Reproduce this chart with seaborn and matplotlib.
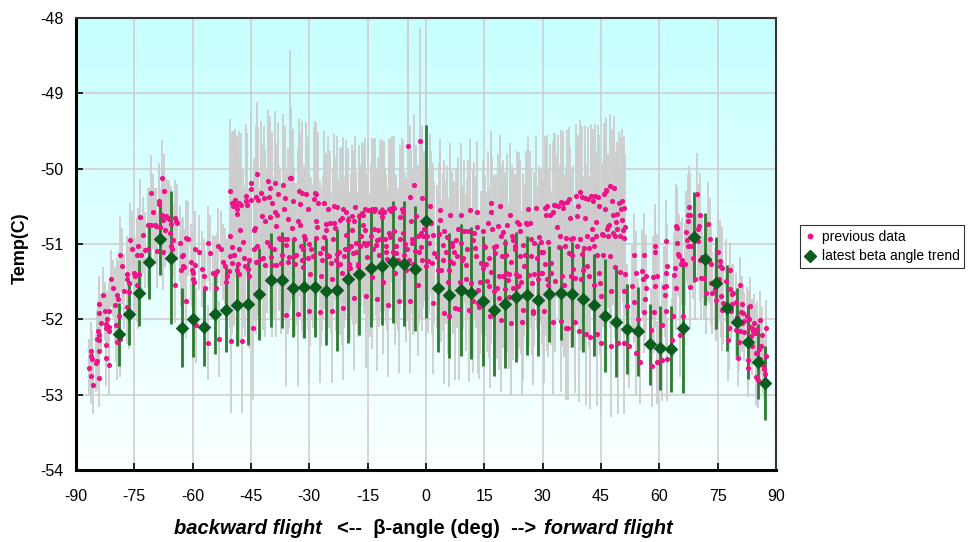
import matplotlib
matplotlib.use("Agg")
import matplotlib.pyplot as plt
import numpy as np
import pandas as pd
import seaborn as sns
from matplotlib.colors import LinearSegmentedColormap
from matplotlib.lines import Line2D

# ---------------- data ----------------
# previous data: beta angle (deg) and temperature (C)
prev_beta = [
    -86.6, -86.2, -86.1, -86.0, -86.2, -85.7, -84.8, -84.7, -84.3, -84.5,
    -84.0, -84.0, -84.2, -84.0, -84.2, -84.1, -83.5, -83.0, -82.6, -82.3,
    -82.4, -82.1, -81.6, -81.6, -81.6, -82.4, -82.3, -81.4, -81.1, -80.6,
    -80.0, -79.7, -79.4, -79.2, -79.0, -79.5, -78.8, -78.8, -78.2, -77.6,
    -76.8, -76.8, -77.0, -76.3, -76.3, -76.1, -75.6, -76.4, -75.1, -74.7,
    -74.4, -74.0, -74.2, -74.0, -73.9, -73.5, -73.2, -72.8, -72.3, -71.6,
    -71.5, -71.1, -70.8, -70.6, -70.1, -69.7, -69.4, -69.1, -68.7, -68.7,
    -68.5, -68.0, -67.9, -67.5, -67.3, -67.2, -66.8, -66.3, -67.7, -66.0,
    -65.8, -65.6, -65.5, -65.3, -65.1, -64.6, -64.6, -64.2, -63.9, -63.2,
    -62.9, -62.7, -62.4, -62.4, -62.2, -61.8, -61.7, -61.3, -60.3, -60.1,
    -59.8, -59.8, -59.6, -59.3, -59.3, -59.1,
    -58.4, -57.6, -57.0, -56.9, -56.0, -56.0, -55.5, -54.8, -54.3, -54.0,
    -53.8, -53.4, -53.1, -52.7, -52.1, -51.7, -51.4, -51.2, -50.7, -50.5,
    -50.5, -50.3, -50.2, -50.0, -49.8, -49.8, -49.7, -49.5, -49.3, -49.1,
    -49.0, -48.8, -48.6, -48.5, -48.5, -48.3, -48.1, -48.0, -48.0, -47.8,
    -47.6, -47.4, -47.1, -46.9, -46.6, -46.2, -46.2, -45.9, -45.7, -45.5,
    -45.4, -45.0, -44.9, -44.9, -44.5, -44.3, -44.2, -44.0, -43.8, -43.6,
    -43.5, -43.5, -43.1, -42.8, -42.3, -42.1, -42.0, -41.6, -41.5, -41.3,
    -41.0, -40.6, -40.4, -40.2, -40.2, -40.0, -39.9, -39.7, -39.5, -39.2,
    -38.8, -38.7, -38.5, -38.5, -38.3, -38.0, -37.8, -37.5, -37.3, -37.1,
    -36.8, -36.6, -36.4, -36.3, -36.1, -35.9, -35.8, -35.6, -35.4, -35.2,
    -34.9, -34.7, -34.4, -34.2, -34.0, -33.9, -33.7, -33.4, -33.0, -32.8,
    -32.7, -32.5, -32.3, -32.1, -32.0, -31.8, -31.6, -31.5, -31.3, -31.1,
    -30.8, -30.4, -30.3, -30.1, -30.0, -29.7, -29.5, -29.1, -28.7, -28.5,
    -28.4,
    -28.2, -28.2, -27.9, -27.7, -27.3, -27.0, -27.2, -26.8, -26.6, -26.3,
    -26.1, -25.8, -25.6, -25.4, -25.1, -24.9, -24.8, -24.4, -24.2, -24.1,
    -23.9, -23.7, -23.6, -23.4, -23.2, -23.0, -22.9, -22.5, -22.4, -22.2,
    -22.0, -21.7, -21.5, -21.3, -21.3, -21.0, -20.8, -20.6, -20.5, -20.1,
    -20.0, -19.8, -19.6, -19.3, -19.1, -18.9, -18.7, -18.6, -18.4, -18.2,
    -18.1, -17.9, -17.5, -17.4, -17.2, -17.0, -16.7, -16.5, -16.3, -16.2,
    -16.0, -15.8, -15.7, -15.5, -15.3, -15.1, -15.0, -14.8, -14.5, -14.1,
    -13.9, -13.8, -13.6, -13.4, -13.3, -13.1, -12.9, -12.7, -12.6, -12.4,
    -12.2, -11.9, -11.7, -11.4, -11.2, -11.0, -10.9, -10.7, -10.5, -10.3,
    -10.2, -10.0, -9.8, -9.6, -9.5, -9.3, -9.1, -8.8, -8.6, -8.3,
    -8.1, -7.9, -7.8, -7.6, -7.3, -6.9, -6.7, -6.6, -6.2, -6.0,
    -5.9, -5.7, -5.5, -5.2, -4.8, -4.5, -4.3, -4.1, -4.0, -3.8,
    -3.6, -3.5, -3.3, -3.1, -2.8, -2.5, -2.1, -2.0, -1.8, -1.6,
    -1.4, -1.3, -1.1, -0.9, -0.7, -0.6, -0.4, 0.0, 0.3, 0.5,
    0.7, 1.0, 1.3, 1.5, 1.7, 1.9, 2.0,
    2.9, 3.1, 3.4, 3.6, 3.7, 3.9, 4.3, 4.4, 4.6, 4.6,
    5.1, 5.3, 5.6, 5.8, 6.0, 6.1, 6.3, 6.7, 6.8, 7.0,
    7.2, 7.5, 7.7, 8.0, 8.2, 8.4, 8.7, 8.9, 9.1, 9.2,
    9.6, 9.9, 10.3, 10.4, 10.6, 10.8, 11.1, 11.3, 11.6, 12.0,
    12.1, 12.3, 12.5, 12.8, 13.0, 13.2, 13.4, 13.5, 13.7, 13.9,
    14.2, 14.6, 14.7, 14.9, 15.1, 15.4, 15.6, 15.9, 16.1, 16.3,
    16.4, 16.6, 16.6, 16.8, 17.1, 17.5, 17.6, 17.8, 18.0, 18.2,
    18.5, 18.7, 18.8, 19.0, 19.2, 19.4, 19.5, 19.7, 19.9, 20.2,
    20.4, 20.6, 20.7, 20.9, 21.1, 21.3, 21.4, 21.6, 21.8, 21.9,
    22.1, 22.3, 22.4, 22.8, 22.9, 23.1, 23.3, 23.7, 23.8, 24.0,
    24.2, 24.3, 24.5, 24.7, 24.9, 25.0, 25.2, 25.4, 25.7, 26.1,
    26.2, 26.4, 26.7, 26.9, 27.1, 27.3, 27.4, 27.6, 27.8, 27.9,
    28.3, 28.5, 28.8, 29.0, 29.1, 29.5, 29.7, 29.8, 30.0, 30.4,
    30.5, 30.7, 30.9, 31.0, 31.2, 31.4, 31.5, 31.9, 32.1, 32.2,
    32.6, 32.7, 32.9, 33.1, 33.3,
    33.8, 34.0, 34.3, 34.5, 34.6, 34.8, 35.0, 35.2, 35.3, 35.5,
    35.7, 35.9, 36.0, 36.2, 36.5, 36.7, 36.9, 37.1, 37.2, 37.4,
    37.6, 37.7, 37.9, 38.3, 38.4, 38.6, 38.8, 38.9, 39.1, 39.3,
    39.5, 39.6, 39.8, 40.0, 40.1, 40.5, 40.7, 40.8, 41.0, 41.2,
    41.3, 41.5, 41.7, 41.9, 42.0, 42.2, 42.4, 42.6, 42.7, 42.9,
    43.1, 43.2, 43.4, 43.6, 43.7, 43.9, 44.1, 44.3, 44.4, 44.6,
    44.8, 45.0, 45.1, 45.3, 45.5, 45.6, 45.8, 46.0, 46.2, 46.3,
    46.5, 46.7, 46.8, 47.0, 47.2, 47.4, 47.5, 47.7, 47.9, 48.0,
    48.2, 48.4, 48.6, 48.7, 48.9, 49.1, 49.2, 49.4, 49.6, 49.8,
    49.9, 50.1, 50.3, 50.4, 50.6, 50.8, 50.9, 51.1, 50.8, 50.9,
    51.3, 51.8, 52.3, 53.0, 53.4, 53.5, 53.9, 54.0, 54.6, 55.1,
    55.6, 55.8, 56.1, 56.1, 56.3, 56.5, 56.6, 57.8, 58.0, 58.3,
    58.7, 58.9, 59.0, 59.0, 59.4, 59.5,
    60.6, 60.7, 61.3, 61.4, 61.6, 61.8, 61.8, 61.8, 61.9, 62.1,
    63.3, 63.5, 63.8, 64.0, 64.2, 64.4, 64.5, 64.5, 64.7, 65.0,
    65.2, 65.5, 65.9, 66.1, 66.6, 66.9, 67.1, 67.3, 67.3, 67.4,
    67.6, 67.8, 67.9, 68.1, 68.6, 69.3, 69.7, 70.0, 70.2, 70.4,
    70.0, 70.4, 70.7, 71.0, 71.6, 72.1, 72.2, 72.6, 72.9, 73.1,
    73.3, 73.4, 73.6, 74.3, 74.6, 75.0, 75.3, 75.5, 75.7, 76.0,
    75.9, 76.2, 76.4, 77.2, 77.6, 77.9, 78.1, 78.3, 78.4, 78.6,
    78.8, 79.0, 79.6, 79.8, 80.1, 80.5, 80.3, 80.7, 80.8, 81.0,
    81.2, 81.3, 81.5, 81.7, 81.9, 82.5, 82.7, 82.9, 83.1, 83.2,
    83.4, 83.6, 83.8, 83.9, 84.1, 84.4, 84.6, 84.8, 84.9, 85.1,
    85.3, 85.6, 85.8, 86.0, 86.2, 86.5, 86.7, 87.0, 87.2, 87.4,
    87.5,
]
prev_temp = [
    -52.64, -52.42, -52.48, -52.53, -52.75, -52.87, -52.58, -52.55, -52.15, -52.26,
    -52.28, -52.21, -52.42, -52.78, -51.91, -51.80, -52.05, -51.68, -51.89, -52.06,
    -52.12, -52.00, -51.89, -52.10, -52.15, -52.51, -52.34, -52.61, -51.46, -51.59,
    -51.81, -52.07, -51.68, -51.73, -51.96, -52.30, -52.26, -51.14, -51.29, -51.63,
    -51.40, -51.46, -51.83, -51.52, -51.64, -50.95, -51.06, -51.90, -51.38, -51.42,
    -51.54, -51.02, -51.14, -51.63, -51.40, -50.64, -51.14, -50.88, -51.08, -51.07,
    -50.75, -50.75, -50.32, -50.75, -50.57, -50.75, -50.76, -51.09, -50.43, -50.47,
    -50.77, -50.12, -50.62, -50.68, -50.30, -50.81, -50.63, -50.65, -51.11, -50.67,
    -50.85, -50.73, -51.03, -51.07, -50.95, -50.65, -51.55, -50.70, -50.72, -50.99,
    -51.34, -51.16, -51.14, -51.29, -51.30, -50.92, -51.75, -50.93, -51.24, -51.34,
    -51.39, -51.47, -51.51, -51.06, -51.28, -52.08,
    -51.11, -51.33, -51.43, -51.59, -50.99, -52.31, -51.12, -51.38, -51.40, -51.58,
    -51.36, -51.02, -52.26, -51.06, -51.24, -51.29, -51.51, -51.43, -51.36, -50.90,
    -51.16, -50.29, -52.29, -51.25, -51.04, -50.46, -50.49, -50.45, -51.14, -50.48,
    -50.42, -50.50, -51.34, -50.53, -50.60, -51.26, -50.45, -51.40, -51.07, -50.81,
    -50.48, -52.29, -50.97, -51.18, -51.29, -50.43, -50.36, -50.48, -51.33, -51.43,
    -51.21, -50.19, -50.27, -50.41, -52.12, -50.82, -51.07, -50.79, -51.24, -50.37,
    -50.07, -51.02, -50.41, -51.20, -50.32, -50.63, -51.19, -50.39, -50.70, -51.28,
    -50.97, -50.17, -50.38, -50.64, -51.02, -50.25, -51.17, -51.28, -50.46, -51.06,
    -50.58, -50.19, -51.28, -50.76, -50.61, -50.33, -50.92, -50.94, -51.25, -51.14,
    -50.22, -50.94, -50.54, -50.39, -51.01, -51.94, -50.94, -50.67, -51.24, -51.17,
    -50.12, -50.13, -50.79, -50.43, -51.16, -50.93, -51.27, -51.14, -51.93, -50.69,
    -50.29, -50.47, -50.75, -51.02, -50.32, -51.21, -51.07, -51.30, -50.90, -50.94,
    -50.33, -51.19, -50.53, -51.89, -51.00, -51.40, -51.06, -51.16, -50.40, -50.32,
    -50.92,
    -50.34, -50.70, -50.77, -50.46, -51.12, -51.42, -51.90, -51.21, -51.05, -50.91,
    -50.45, -50.74, -50.81, -51.14, -50.53, -51.16, -50.72, -51.25, -51.47, -51.89,
    -50.94, -50.49, -50.72, -50.79, -51.21, -50.51, -51.13, -51.28, -51.10, -51.26,
    -50.68, -50.66, -51.39, -50.53, -51.85, -51.16, -51.06, -50.57, -50.88, -51.07,
    -50.68, -51.26, -51.32, -51.02, -50.81, -50.63, -51.12, -50.70, -51.72, -50.51,
    -51.11, -50.99, -51.26, -51.29, -50.63, -51.03, -50.89, -50.59, -50.61, -50.75,
    -50.98, -50.54, -50.82, -51.69, -51.01, -51.17, -50.98, -50.55, -51.29, -50.89,
    -51.44, -50.54, -51.07, -50.80, -50.56, -50.54, -51.01, -51.73, -50.95, -50.81,
    -51.15, -50.57, -50.94, -50.55, -50.64, -51.51, -50.58, -50.58, -50.94, -51.10,
    -51.03, -51.20, -51.81, -50.85, -50.54, -50.91, -50.56, -50.52, -51.10, -50.83,
    -50.52, -51.39, -51.12, -51.03, -51.21, -51.76, -50.64, -50.93, -50.54, -50.85,
    -50.57, -51.15, -51.00, -51.35, -51.07, -49.70, -51.21, -51.76, -50.37, -50.70,
    -50.94, -50.99, -51.26, -50.22, -51.09, -50.63, -51.54, -50.90, -51.11, -49.63,
    -50.85, -51.04, -50.39, -51.21, -50.90, -50.80, -50.72, -51.29, -50.90, -51.23,
    -50.98, -50.49, -50.72, -51.25, -51.78, -50.88, -51.12,
    -51.17, -51.34, -50.87, -50.55, -50.68, -51.35, -51.21, -51.01, -50.83, -51.91,
    -51.11, -50.91, -51.51, -51.95, -51.34, -50.61, -51.22, -51.02, -50.98, -51.25,
    -51.11, -51.85, -50.95, -51.16, -50.80, -51.86, -51.51, -50.61, -50.99, -51.21,
    -51.18, -50.83, -51.47, -51.28, -51.07, -50.83, -51.88, -50.55, -51.52, -51.76,
    -50.95, -50.86, -51.05, -51.16, -50.78, -50.58, -51.61, -51.78, -51.84, -51.51,
    -51.25, -51.32, -50.83, -51.03, -51.04, -51.27, -51.49, -50.72, -51.56, -51.19,
    -51.96, -50.45, -50.57, -51.37, -50.80, -51.04, -51.62, -51.12, -51.02, -51.58,
    -50.76, -51.42, -51.72, -50.50, -52.01, -50.90, -51.16, -51.43, -50.84, -50.99,
    -51.60, -51.39, -51.15, -50.75, -51.48, -51.71, -51.40, -50.61, -52.05, -51.24,
    -50.90, -50.95, -51.59, -51.02, -51.07, -51.40, -50.71, -51.56, -50.73, -51.43,
    -51.16, -50.83, -51.51, -52.04, -51.87, -51.01, -51.29, -51.14, -50.72, -50.74,
    -50.53, -51.41, -50.72, -51.16, -50.94, -51.52, -51.92, -51.89, -51.40, -50.99,
    -50.52, -51.18, -51.46, -50.91, -51.38, -51.11, -50.97, -51.38, -51.10, -51.89,
    -51.26, -50.52, -50.62, -51.47, -50.50, -50.97, -51.55, -50.62, -51.39, -51.25,
    -50.58, -52.04, -50.48, -51.49, -50.48,
    -50.77, -50.50, -51.04, -50.90, -50.44, -52.02, -51.42, -50.52, -50.45, -51.55,
    -51.03, -50.92, -52.12, -50.44, -52.12, -50.40, -51.12, -50.66, -51.43, -50.94,
    -51.15, -50.92, -51.33, -52.03, -51.45, -50.36, -50.63, -51.03, -50.50, -52.15,
    -50.31, -50.93, -51.47, -51.13, -50.38, -51.34, -51.05, -50.39, -50.66, -52.20,
    -51.29, -50.90, -50.40, -51.05, -51.43, -52.24, -50.36, -50.80, -50.94, -50.43,
    -51.02, -51.55, -50.36, -50.90, -50.71, -52.20, -51.15, -50.37, -51.38, -50.50,
    -51.52, -52.32, -51.69, -50.87, -51.15, -50.88, -50.34, -50.54, -50.30, -50.28,
    -50.80, -50.76, -50.90, -50.75, -50.23, -51.16, -51.62, -52.35, -50.43, -50.61,
    -50.86, -50.25, -50.90, -51.30, -50.71, -50.60, -50.80, -52.31, -50.46, -50.90,
    -51.37, -50.53, -50.68, -50.43, -50.82, -50.92, -50.52, -50.77, -52.31, -51.62,
    -51.40, -51.82, -52.36, -51.56, -51.15, -51.77, -51.38, -52.45, -52.00, -52.57,
    -51.36, -51.47, -51.14, -51.90, -51.73, -51.59, -51.43, -52.14, -52.62, -51.44,
    -51.90, -51.02, -51.56, -51.11, -52.57, -51.42,
    -52.07, -52.54, -51.57, -51.68, -51.89, -51.38, -51.56, -50.96, -51.29, -52.53,
    -52.27, -51.95, -51.41, -51.32, -51.59, -50.76, -50.79, -50.99, -51.13, -51.16,
    -52.21, -51.26, -51.21, -51.95, -51.27, -50.84, -50.95, -50.70, -51.02, -50.62,
    -50.51, -51.57, -50.61, -51.03, -51.18, -51.46, -50.34, -50.80, -50.76, -50.61,
    -50.96, -51.21, -51.45, -51.17, -51.45, -51.65, -51.21, -50.73, -51.23, -50.94,
    -51.52, -51.26, -51.65, -51.60, -51.74, -51.11, -51.47, -51.23, -51.29, -51.32,
    -51.69, -51.87, -51.78, -51.49, -52.27, -52.12, -51.35, -51.60, -51.89, -51.66,
    -51.80, -51.65, -52.14, -51.77, -51.97, -52.30, -52.51, -52.15, -51.55, -51.90,
    -51.80, -52.05, -51.92, -52.17, -52.02, -51.95, -52.54, -52.65, -51.99, -52.10,
    -51.82, -52.22, -52.36, -52.11, -52.16, -52.05, -52.18, -52.77, -52.45, -52.13,
    -52.80, -52.39, -52.52, -52.01, -52.35, -52.21, -52.60, -52.66, -52.72, -52.48,
    -52.12,
]
# spread of the previous data by beta range: (from, to, half-width in C)
prev_err_ranges = [(-90.0, -80.0, 0.38), (-80.0, -50.6, 0.50),
                   (-50.6, 51.15, 0.95), (51.15, 78.0, 0.55), (78.0, 90.0, 0.38)]
# individual readings with a much wider spread (beta -> half-width)
prev_err_wide = {-34.9: 1.7, -4.5: 1.7, -1.6: 1.5}

# latest beta angle trend: beta (deg), mean temperature (C), half error bar (C)
trend_beta = [
    -79.0, -76.4, -73.8, -71.1, -68.4, -65.5, -62.8, -60.0, -57.1, -54.3,
    -51.5, -48.6, -45.8, -42.9, -39.9, -37.1, -34.3, -31.4, -28.5, -25.6,
    -22.8, -19.95, -17.1, -14.2, -11.3, -8.4, -5.6, -2.8, 0.1, 3.05,
    5.9, 8.9, 11.7, 14.6, 17.4, 20.3, 23.2, 26.1, 28.8, 31.6,
    34.6, 37.5, 40.3, 43.1, 46.0, 48.9, 51.7, 54.6, 57.6, 60.3,
    63.1, 66.0, 68.9, 71.7, 74.6, 77.3, 80.1, 82.8, 85.3, 87.3,
]
trend_temp = [
    -52.20, -51.93, -51.65, -51.24, -50.94, -51.18, -52.11, -52.00, -52.10, -51.93,
    -51.87, -51.81, -51.79, -51.66, -51.48, -51.48, -51.59, -51.57, -51.57, -51.63,
    -51.61, -51.47, -51.40, -51.32, -51.29, -51.24, -51.26, -51.33, -50.70, -51.59,
    -51.68, -51.61, -51.65, -51.76, -51.88, -51.79, -51.70, -51.68, -51.74, -51.66,
    -51.65, -51.67, -51.73, -51.81, -51.95, -52.04, -52.13, -52.16, -52.33, -52.38,
    -52.39, -52.11, -50.91, -51.20, -51.52, -51.85, -52.04, -52.30, -52.56, -52.85,
]
trend_err = [
    0.42, 0.41, 0.44, 0.49, 0.47, 0.88, 0.52, 0.50, 0.52, 0.53,
    0.56, 0.55, 0.55, 0.61, 0.62, 0.64, 0.65, 0.68, 0.66, 0.71,
    0.81, 0.84, 0.81, 0.78, 0.78, 0.81, 0.83, 0.83, 1.28, 0.84,
    0.83, 0.88, 0.87, 0.86, 0.87, 0.85, 0.86, 0.79, 0.75, 0.64,
    0.63, 0.70, 0.70, 0.68, 0.75, 0.73, 0.60, 0.59, 0.54, 0.56,
    0.57, 0.87, 0.60, 0.61, 0.61, 0.57, 0.45, 0.49, 0.50, 0.49,
]

x_ticks = list(range(-90, 91, 15))
y_ticks = list(range(-54, -47))
legend_labels = ["previous data", "latest beta angle trend"]


def spread_for(beta):
    if beta in prev_err_wide:
        return prev_err_wide[beta]
    for lo, hi, err in prev_err_ranges:
        if lo <= beta < hi:
            return err
    return prev_err_ranges[-1][2]


prev = pd.DataFrame({"beta": prev_beta, "temp": prev_temp})
prev["err"] = [spread_for(b) for b in prev["beta"]]
trend = pd.DataFrame({"beta": trend_beta, "temp": trend_temp, "err": trend_err})

# ---------------- style ----------------
sns.set_theme(style="white")
plt.rcParams["font.family"] = ["Liberation Sans Narrow", "Liberation Sans", "DejaVu Sans"]
plt.rcParams["axes.unicode_minus"] = False
plt.rcParams["text.color"] = "black"

PINK = "#ef1389"
DIAMOND = "#0b5d1e"
GREEN_BAR = "#2b7b2f"
GRAY_BAR = "#cdcdcd"

fig = plt.figure(figsize=(9.69, 5.42), dpi=100)
ax = fig.add_axes([0.0784, 0.1328, 0.7224, 0.834])

# cyan-to-white backdrop of the plotting area
bg = LinearSegmentedColormap.from_list("bg", ["#c6ffff", "#fbffff"])
ax.imshow(np.linspace(0, 1, 256).reshape(-1, 1), cmap=bg, aspect="auto",
          extent=[-90, 90, -54, -48], origin="upper", zorder=0)

ax.vlines(prev["beta"], prev["temp"] - prev["err"], prev["temp"] + prev["err"],
          color=GRAY_BAR, lw=1.3, zorder=2)
ax.vlines(trend["beta"], trend["temp"] - trend["err"], trend["temp"] + trend["err"],
          color=GREEN_BAR, lw=2.0, zorder=3)
sns.scatterplot(data=prev, x="beta", y="temp", ax=ax, color=PINK, s=14,
                linewidth=0, zorder=4, legend=False)
sns.scatterplot(data=trend, x="beta", y="temp", ax=ax, color=DIAMOND, marker="D",
                s=48, linewidth=0, zorder=5, legend=False)

ax.set_xlim(-90, 90)
ax.set_ylim(-54, -48)
ax.set_xticks(x_ticks)
ax.set_yticks(y_ticks)
ax.grid(True, color="#cfcfcf", lw=1.2)
ax.set_axisbelow(True)
for gl in ax.get_xgridlines() + ax.get_ygridlines():
    gl.set_zorder(1)

ax.tick_params(direction="in", length=5, width=1.2, colors="black",
               labelsize=11.5, left=True, bottom=True)
ax.tick_params(axis="x", pad=14)
ax.tick_params(axis="y", pad=9)
ax.set_xlabel("")
ax.set_ylabel("")
for side in ("left", "bottom"):
    ax.spines[side].set_color("black")
    ax.spines[side].set_linewidth(2.2)
for side in ("top", "right"):
    ax.spines[side].set_color("#333333")
    ax.spines[side].set_linewidth(1.5)
for sp in ax.spines.values():
    sp.set_zorder(6)

# axis titles
fig.text(20 / 969, 1 - 248 / 542, "Temp(C)", rotation=90, ha="center", va="center",
         fontsize=13, fontweight="bold", color="black",
         family=["Liberation Sans", "DejaVu Sans"])
mid = fig.text(437 / 969, 1 - 529 / 542, "<--  β-angle (deg)  -->", ha="center",
               va="center", fontsize=14.5, fontweight="bold", color="black")
ax.annotate("backward flight", xy=(0, 0.5), xycoords=mid, xytext=(-11, 0),
            textcoords="offset points", ha="right", va="center", fontsize=14.5,
            fontweight="bold", fontstyle="italic", color="black",
            annotation_clip=False)
ax.annotate("forward flight", xy=(1, 0.5), xycoords=mid, xytext=(5, 0),
            textcoords="offset points", ha="left", va="center", fontsize=14.5,
            fontweight="bold", fontstyle="italic", color="black",
            annotation_clip=False)

# legend outside the plotting area
handles = [
    Line2D([], [], ls="none", marker="o", ms=3.2, color=PINK, mec=PINK),
    Line2D([], [], ls="none", marker="D", ms=6, color=DIAMOND, mec=DIAMOND),
]
leg = fig.legend(handles, legend_labels, loc="upper left",
                 bbox_to_anchor=(800 / 969, 1 - 225 / 542), frameon=True,
                 fancybox=False, shadow=False, handlelength=0.8,
                 handletextpad=0.4, borderpad=0.35, labelspacing=0.4,
                 borderaxespad=0, labelcolor="black",
                 prop={"family": ["Liberation Sans", "DejaVu Sans"], "size": 10})
leg.get_frame().set_edgecolor("black")
leg.get_frame().set_linewidth(0.8)
leg.get_frame().set_facecolor("white")

fig.savefig("out.png", dpi=100)
